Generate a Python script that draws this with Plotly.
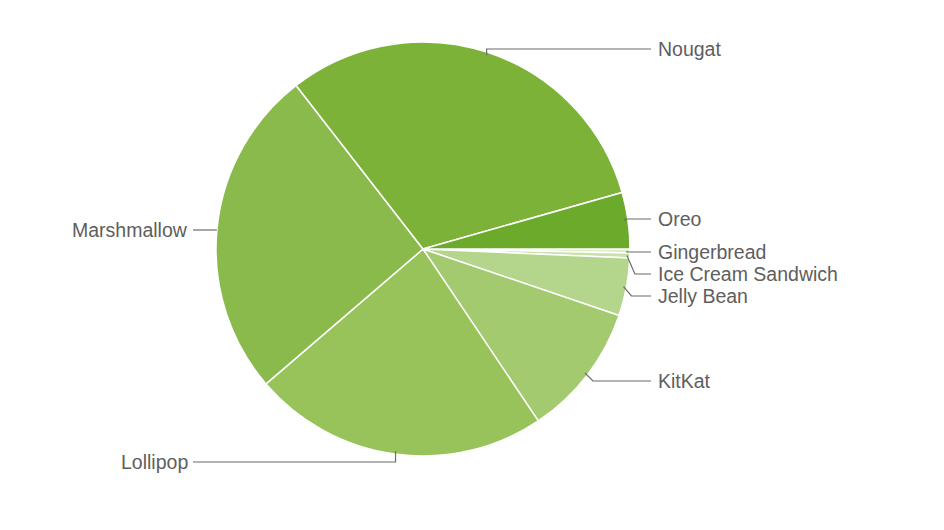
import math
import plotly.graph_objects as go

# Android platform versions distribution
versions = ["Gingerbread", "Ice Cream Sandwich", "Jelly Bean", "KitKat",
            "Lollipop", "Marshmallow", "Nougat", "Oreo"]
shares = [0.3, 0.4, 4.5, 10.4, 23.1, 25.8, 31.1, 4.4]
colors = ["#dcedc8", "#c9e2ab", "#b4d68c", "#a3ca6f",
          "#98c25a", "#8aba4c", "#7cb238", "#6caa2c"]

W, H = 944, 530
OFF = 8  # page margin around the plot div
cx, cy, r = 423, 249, 207  # pie centre and radius in page pixels

# label layout (page pixels)
label_y = {"Nougat": 49, "Oreo": 219, "Gingerbread": 252, "Ice Cream Sandwich": 274,
           "Jelly Bean": 296, "KitKat": 381, "Lollipop": 462, "Marshmallow": 230}
right_x, left_x = 651, 193


def px(x, y):
    return (x - OFF) / W, 1 - (y - OFF) / H


x0, y0 = px(cx - r, cy + r)
x1, y1 = px(cx + r, cy - r)
fig = go.Figure(go.Pie(
    labels=versions, values=shares, sort=False, direction="clockwise",
    rotation=90, textinfo="none", showlegend=False,
    marker=dict(colors=colors, line=dict(color="white", width=1.5)),
    domain=dict(x=[x0, x1], y=[y0, y1]),
))

total = sum(shares)
cum = 0
shapes, annotations = [], []
for name, v in zip(versions, shares):
    mid = (cum + v / 2) / total * 2 * math.pi  # clockwise from 3 o'clock
    cum += v
    ly = label_y[name]
    if name == "Marshmallow":
        # connector meets the edge at label height
        sx, sy = cx - math.sqrt(r ** 2 - (ly - cy) ** 2), ly
    else:
        sx, sy = cx + (r - 3) * math.cos(mid), cy + (r - 3) * math.sin(mid)
    right = sx >= cx
    ex = sx + (8 if right else -8)
    endx = right_x if right else left_x
    pts = [px(sx, sy), px(ex if abs(ly - sy) > 6 else sx, ly), px(endx, ly)]
    if name in ("Nougat", "Lollipop"):
        pts = [px(sx, sy), px(sx, ly), px(endx, ly)]
    path = "M {},{} L {},{} L {},{}".format(*[c for p in pts for c in p])
    shapes.append(dict(type="path", xref="paper", yref="paper", path=path,
                       line=dict(color="#6b6b6b", width=1.2)))
    tx, ty = px(endx + (5 if right else -3), ly)
    annotations.append(dict(x=tx, y=ty, xref="paper", yref="paper", text=name,
                            showarrow=False, xanchor="left" if right else "right",
                            yanchor="middle",
                            font=dict(family="Liberation Sans, Arial", size=19.5,
                                      color="#5e5e5e")))

fig.update_layout(width=W, height=H, margin=dict(l=0, r=0, t=0, b=0),
                  paper_bgcolor="white", plot_bgcolor="white",
                  shapes=shapes, annotations=annotations)
fig.write_html("out.html")
